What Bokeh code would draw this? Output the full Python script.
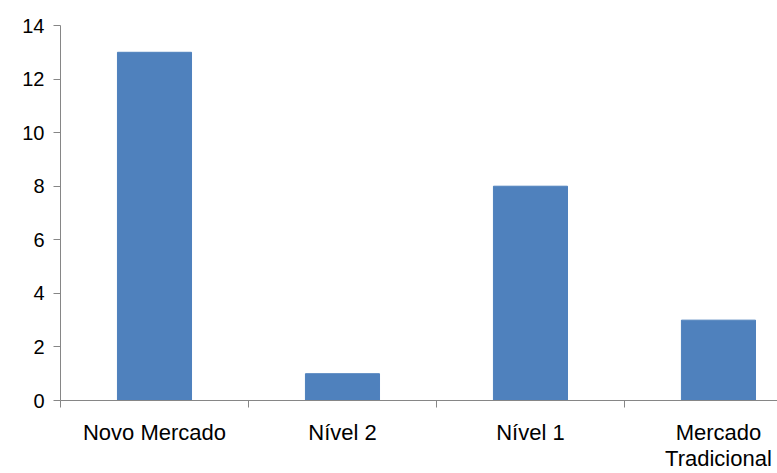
from bokeh.plotting import figure
from bokeh.models import FixedTicker, Range1d
from bokeh.embed import file_html
from bokeh.resources import INLINE

categories = ["Novo Mercado", "Nível 2", "Nível 1", "Mercado\nTradicional"]
values = [13, 1, 8, 3]
y_ticks = [0, 2, 4, 6, 8, 10, 12, 14]

positions = [i + 0.5 for i in range(len(categories))]

p = figure(width=777, height=473, output_backend="svg", toolbar_location=None,
           x_range=Range1d(0, 3.814), y_range=Range1d(0, 14),
           min_border_left=60, min_border_right=0, min_border_top=25, min_border_bottom=72)
p.outline_line_color = None
p.xgrid.visible = False
p.ygrid.visible = False
p.background_fill_color = "white"
p.border_fill_color = "white"

p.vbar(x=positions, top=values, width=0.394, bottom=0, color="#4F81BD", line_color="#4F81BD")

font = "Liberation Sans"
# y axis
p.yaxis.ticker = FixedTicker(ticks=y_ticks)
p.yaxis.axis_line_color = "#868686"
p.yaxis.major_tick_line_color = "#868686"
p.yaxis.major_tick_out = 7
p.yaxis.major_tick_in = 0
p.yaxis.minor_tick_line_color = None
p.yaxis.major_label_standoff = 9
p.yaxis.major_label_text_font = font
p.yaxis.major_label_text_font_size = "20px"
p.yaxis.major_label_text_color = "#000000"

# x axis
p.xaxis.ticker = FixedTicker(ticks=positions, minor_ticks=[0, 1, 2, 3])
p.xaxis.major_label_overrides = {pos: lab for pos, lab in zip(positions, categories)}
p.xaxis.axis_line_color = "#868686"
p.xaxis.major_tick_line_color = None
p.xaxis.major_tick_out = 0
p.xaxis.major_tick_in = 0
p.xaxis.minor_tick_line_color = "#868686"
p.xaxis.minor_tick_out = 7
p.xaxis.minor_tick_in = 0
p.xaxis.major_label_standoff = 12
p.xaxis.major_label_text_font = font
p.xaxis.major_label_text_font_size = "22px"
p.xaxis.major_label_text_line_height = 1.05
p.xaxis.major_label_text_color = "#000000"

open("out.html", "w").write(file_html(p, INLINE))
